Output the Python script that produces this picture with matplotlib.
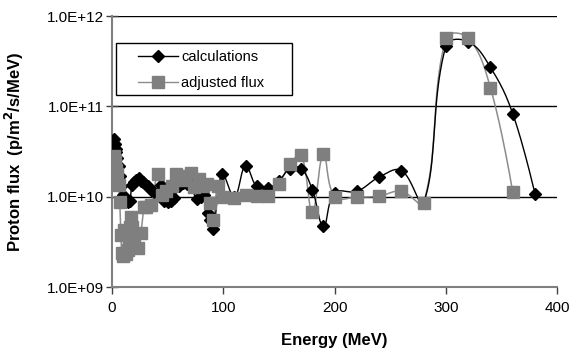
import numpy as np
import matplotlib
matplotlib.use("Agg")
import matplotlib.pyplot as plt
from matplotlib.patches import Rectangle

plt.rcParams['font.family'] = ['Liberation Sans', 'DejaVu Sans']

# Calculated proton flux spectrum
calc_energy = [2, 3, 3.5, 4, 5, 6, 7, 8, 10, 12, 14, 16, 18, 20, 22, 24, 26, 28,
               30, 32, 35, 38, 44, 47, 50, 53, 56, 60, 64, 67, 71, 76, 80, 83,
               86, 88, 91, 99, 110, 120, 130, 140, 150, 160, 170, 180, 190, 200,
               220, 240, 260, 280, 300, 320, 340, 360, 380]
calc_flux = [4.4e10, 3.8e10, 3.4e10, 3.1e10, 2.7e10, 2.2e10, 1.7e10, 1.3e10,
             1.05e10, 9.5e9, 8.8e9, 9.0e9, 1.35e10, 1.45e10, 1.55e10, 1.6e10,
             1.5e10, 1.45e10, 1.4e10, 1.3e10, 1.18e10, 1.12e10, 1.35e10, 9.0e9,
             8.7e9, 9.0e9, 9.8e9, 1.3e10, 1.42e10, 1.37e10, 1.3e10, 9.5e9,
             1.0e10, 1.04e10, 6.6e9, 5.5e9, 4.4e9, 1.78e10, 1.0e10, 2.2e10,
             1.3e10, 1.24e10, 1.5e10, 2.05e10, 2.05e10, 1.19e10, 4.7e9, 1.1e10,
             1.15e10, 1.65e10, 1.95e10, 8.6e9, 4.7e11, 5.2e11, 2.7e11, 8.3e10,
             1.07e10]

# Adjusted proton flux spectrum
adj_energy = [2, 3, 4, 5, 6, 7, 8, 9, 10, 11, 12, 13, 14, 15, 16, 17, 18, 20,
              23, 26, 29, 31, 35, 41, 45, 49, 54, 58, 63, 66, 71, 74, 78, 82,
              85, 88, 91, 95, 100, 110, 120, 130, 140, 150, 160, 170, 180, 190,
              200, 220, 240, 260, 280, 300, 320, 340, 360]
adj_flux = [2.8e10, 2.5e10, 2.0e10, 1.8e10, 1.35e10, 8.8e9, 3.8e9, 2.4e9,
            2.2e9, 4.3e9, 2.4e9, 2.3e9, 2.6e9, 3.5e9, 4.6e9, 6.0e9, 4.6e9,
            3.8e9, 2.7e9, 4.0e9, 7.7e9, 7.7e9, 8.0e9, 1.78e10, 1.05e10,
            1.15e10, 1.3e10, 1.8e10, 1.55e10, 1.7e10, 1.85e10, 1.27e10,
            1.58e10, 1.3e10, 1.38e10, 8.5e9, 5.5e9, 1.3e10, 1.0e10, 9.8e9,
            1.05e10, 1.03e10, 1.03e10, 1.4e10, 2.3e10, 2.9e10, 6.8e9, 3.0e10,
            1.0e10, 9.9e9, 1.02e10, 1.15e10, 8.6e9, 5.7e11, 5.7e11, 1.6e11,
            1.12e10]

x_ticks = [0, 100, 200, 300, 400]
y_ticks = [1e9, 1e10, 1e11, 1e12]
y_ticklabels = ["1.0E+09", "1.0E+10", "1.0E+11", "1.0E+12"]


def smooth(xs, ys, n=20, sx=445 / 400.0, sy=90.3):
    """Smoothed Bezier curve through the points, with tangents scaled by the
    neighbouring chord lengths (evaluated in screen-like units)."""
    px = np.asarray(xs, float) * sx
    py = np.log10(np.asarray(ys, float)) * sy
    P = np.column_stack([px, py])
    m = len(P)
    d = np.hypot(*np.diff(P, axis=0).T)
    T = np.zeros_like(P)
    for i in range(m):
        if 0 < i < m - 1:
            T[i] = (P[i + 1] - P[i - 1]) / max(d[i - 1] + d[i], 1e-9)
    out = []
    t = np.linspace(0, 1, n, endpoint=False)[:, None]
    for i in range(m - 1):
        p1, p2 = P[i], P[i + 1]
        c1 = p1 + T[i] * d[i] / 2.5
        c2 = p2 - T[i + 1] * d[i] / 2.5
        seg = ((1 - t) ** 3) * p1 + 3 * ((1 - t) ** 2) * t * c1 \
            + 3 * (1 - t) * t ** 2 * c2 + t ** 3 * p2
        out.append(seg)
    out.append(P[-1][None, :])
    C = np.vstack(out)
    return C[:, 0] / sx, 10 ** (C[:, 1] / sy)


fig = plt.figure(figsize=(5.71, 3.48), dpi=100)
ax = fig.add_axes([0.196, 0.175, 0.78, 0.779])

ax.set_yscale('log')
ax.set_xlim(0, 400)
ax.set_ylim(1e9, 1e12)

for y in [1e10, 1e11, 1e12]:
    ax.axhline(y, color='black', lw=1.0, zorder=1)

gray_line = '#8c8c8c'
gray_marker = '#7f7f7f'

sx_, sy_ = smooth(adj_energy, adj_flux)
ax.plot(sx_, sy_, color=gray_line, lw=1.1, zorder=2)
cx_, cy_ = smooth(calc_energy, calc_flux)
ax.plot(cx_, cy_, color='black', lw=1.0, zorder=3)
ax.plot(calc_energy, calc_flux, linestyle='none', marker='D', ms=6,
        color='black', zorder=4)
ax.plot(adj_energy, adj_flux, linestyle='none', marker='s', ms=8.5,
        color=gray_marker, zorder=5)

# legend: frame drawn as a plain box, entries placed inside it
box = Rectangle((0.009, 0.708), 0.395, 0.192, transform=ax.transAxes,
                facecolor='white', edgecolor='black', lw=1.0, zorder=6)
ax.add_patch(box)
h1, = ax.plot([], [], color='black', lw=1.0, marker='D', ms=6)
h2, = ax.plot([], [], color=gray_line, lw=1.0, marker='s', ms=8.5,
              markerfacecolor=gray_marker, markeredgecolor=gray_marker)
leg = ax.legend([h1, h2], ['calculations', 'adjusted flux'],
                loc='upper left', bbox_to_anchor=(0.058, 0.875),
                borderaxespad=0, borderpad=0, frameon=False,
                fontsize=10.5, handlelength=2.75,
                handletextpad=0.25, labelspacing=0.85)
leg.set_zorder(7)

for side in ['top', 'right']:
    ax.spines[side].set_visible(False)
for side in ['left', 'bottom']:
    ax.spines[side].set_color('#808080')
    ax.spines[side].set_linewidth(1.5)

ax.set_xticks(x_ticks)
ax.set_yticks(y_ticks)
ax.set_yticklabels(y_ticklabels)
ax.yaxis.set_minor_locator(matplotlib.ticker.NullLocator())
ax.tick_params(axis='y', direction='inout', length=9, width=1.0,
               color='#404040', labelsize=11, labelcolor='black', pad=1)
ax.tick_params(axis='x', direction='out', length=5, width=1.0,
               color='#404040', labelsize=11, labelcolor='black', pad=5)

ax.set_xlabel('Energy (MeV)', fontsize=12, fontweight='bold', labelpad=13)
ax.set_ylabel('Proton flux  (p/m$^{\\mathbf{2}}$/s/MeV)', fontsize=12,
              fontweight='bold', labelpad=15)

fig.savefig('out.png', dpi=100)
